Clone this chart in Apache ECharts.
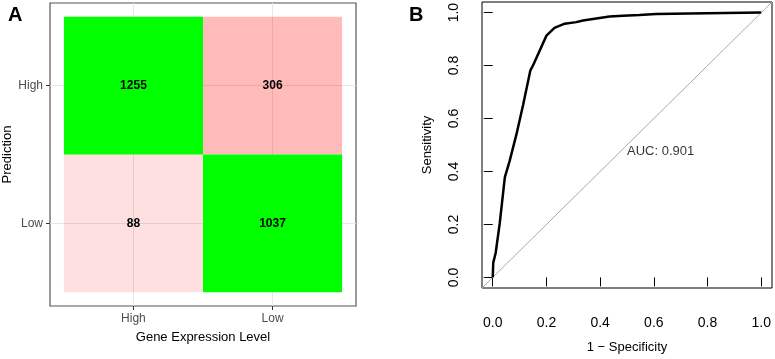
<!DOCTYPE html>
<html>
<head>
<meta charset="utf-8">
<script src="https://cdn.jsdelivr.net/npm/echarts@6/dist/echarts.min.js"></script>
<style>
  html, body { margin: 0; padding: 0; background: #fff; }
  #chart { width: 775px; height: 359px; }
</style>
</head>
<body>
<div id="chart"></div>
<script>
// Panel A: confusion matrix
const actualLevels = ['High', 'Low'];      // x: Gene Expression Level
const predLevels = ['Low', 'High'];        // y: Prediction (bottom to top)
// [actualIndex, predIndex, count]
const matrixCounts = [
  [0, 1, 1255],
  [1, 1, 306],
  [0, 0, 88],
  [1, 0, 1037],
];

// Panel B: ROC curve (1 - specificity, sensitivity)
const rocFpr = [0, 0.002, 0.011, 0.026, 0.045, 0.063, 0.088, 0.113, 0.140, 0.152, 0.200,
  0.230, 0.268, 0.311, 0.336, 0.435, 0.485, 0.546, 0.608, 0.732, 1];
const rocTpr = [0, 0.056, 0.093, 0.204, 0.378, 0.440, 0.539, 0.651, 0.781, 0.805, 0.913,
  0.942, 0.958, 0.964, 0.970, 0.985, 0.988, 0.991, 0.995, 0.997, 1];
const rocTicks = [0, 0.2, 0.4, 0.6, 0.8, 1];
const aucText = 'AUC: 0.901';

const FONT = 'Liberation Sans, Arial, sans-serif';
const chart = echarts.init(document.getElementById('chart'));

const isCorrect = d => actualLevels[d[0]] === predLevels[d[1]];
const maxOff = Math.max(...matrixCounts.filter(d => !isCorrect(d)).map(d => d[2]));
function tileColor(d) {
  // correct predictions are green, errors pink shaded by count
  if (isCorrect(d)) return '#00ff00';
  const a = 0.06 + 0.21 * d[2] / maxOff;
  return 'rgba(255,0,0,' + a.toFixed(3) + ')';
}

const tileData = matrixCounts.map(d => [d[0] + 1, d[1] + 1, d[2]]);

const option = {
  animation: false,
  title: [
    { text: 'A', left: 3, top: 0, textStyle: { fontFamily: FONT, fontSize: 20, fontWeight: 'bold', color: '#000' } },
    { text: 'B', left: 404, top: 0, textStyle: { fontFamily: FONT, fontSize: 20, fontWeight: 'bold', color: '#000' } },
  ],
  grid: [
    { left: 49, top: 3, width: 307, height: 303, show: true, borderColor: '#555', borderWidth: 1.2, backgroundColor: '#fff' },
    { left: 482, top: 2, width: 290, height: 291, show: true, borderColor: '#000', borderWidth: 1 },
  ],
  xAxis: [
    {
      gridIndex: 0, type: 'value', min: 0.4, max: 2.6,
      name: 'Gene Expression Level', nameLocation: 'middle', nameGap: 25,
      nameTextStyle: { fontFamily: FONT, fontSize: 13, color: '#000' },
      axisLine: { show: false },
      axisTick: { show: true, length: 4, customValues: [1, 2], lineStyle: { color: '#333' } },
      axisLabel: { customValues: [1, 2], margin: 7, fontFamily: FONT, fontSize: 12, color: '#4d4d4d',
        formatter: v => actualLevels[Math.round(v) - 1] },
      splitLine: { show: false },
    },
    {
      gridIndex: 1, type: 'value', min: -0.04, max: 1.04,
      name: '1 − Specificity', nameLocation: 'middle', nameGap: 53,
      nameTextStyle: { fontFamily: FONT, fontSize: 13, color: '#000' },
      axisLine: { show: false },
      axisTick: { show: true, length: 9, customValues: rocTicks, lineStyle: { color: '#000' } },
      axisLabel: { customValues: rocTicks, margin: 28, fontFamily: FONT, fontSize: 14, color: '#000',
        formatter: v => v.toFixed(1) },
      splitLine: { show: false },
    },
  ],
  yAxis: [
    {
      gridIndex: 0, type: 'value', min: 0.4, max: 2.6,
      name: 'Prediction', nameLocation: 'middle', nameGap: 36,
      nameTextStyle: { fontFamily: FONT, fontSize: 13, color: '#000' },
      axisLine: { show: false },
      axisTick: { show: true, length: 4, customValues: [1, 2], lineStyle: { color: '#333' } },
      axisLabel: { customValues: [1, 2], margin: 7, fontFamily: FONT, fontSize: 12, color: '#4d4d4d',
        formatter: v => predLevels[Math.round(v) - 1] },
      splitLine: { show: false },
    },
    {
      gridIndex: 1, type: 'value', min: -0.04, max: 1.04,
      name: 'Sensitivity', nameLocation: 'middle', nameGap: 48,
      nameTextStyle: { fontFamily: FONT, fontSize: 13, color: '#000' },
      axisLine: { show: false },
      axisTick: { show: true, length: 9, customValues: rocTicks, lineStyle: { color: '#000' } },
      axisLabel: { customValues: rocTicks, margin: 21, rotate: 90, fontFamily: FONT, fontSize: 14, color: '#000',
        formatter: v => v.toFixed(1) },
      splitLine: { show: false },
    },
  ],
  series: [
    // light grid lines behind the tiles
    {
      type: 'line', xAxisIndex: 0, yAxisIndex: 0, data: [], z: 1, silent: true,
      markLine: {
        silent: true, symbol: 'none', label: { show: false }, z: 1, animation: false,
        lineStyle: { color: '#e6e6e6', width: 1, type: 'solid' },
        data: [{ xAxis: 1 }, { xAxis: 2 }, { yAxis: 1 }, { yAxis: 2 }],
      },
    },
    {
      type: 'custom', xAxisIndex: 0, yAxisIndex: 0, z: 3,
      data: tileData,
      renderItem: (params, api) => {
        const x = api.value(0), y = api.value(1);
        const p0 = api.coord([x - 0.5, y + 0.5]);
        const p1 = api.coord([x + 0.5, y - 0.5]);
        const d = matrixCounts[params.dataIndex];
        return {
          type: 'group',
          children: [
            { type: 'rect', shape: { x: p0[0], y: p0[1], width: p1[0] - p0[0], height: p1[1] - p0[1] },
              style: { fill: tileColor(d) } },
            { type: 'text', x: (p0[0] + p1[0]) / 2, y: (p0[1] + p1[1]) / 2,
              style: { text: String(api.value(2)), align: 'center', verticalAlign: 'middle',
                fontFamily: FONT, fontSize: 12, fontWeight: 'bold', fill: '#000' } },
          ],
        };
      },
    },
    // chance diagonal
    {
      type: 'line', xAxisIndex: 1, yAxisIndex: 1, showSymbol: false, silent: true,
      data: [[-0.04, -0.04], [1.04, 1.04]],
      lineStyle: { color: '#aaa', width: 1 },
    },
    {
      type: 'line', xAxisIndex: 1, yAxisIndex: 1, showSymbol: false, silent: true,
      data: rocFpr.map((x, i) => [x, rocTpr[i]]),
      lineStyle: { color: '#000', width: 2.5 },
    },
    {
      type: 'scatter', xAxisIndex: 1, yAxisIndex: 1, symbolSize: 0, silent: true,
      data: [[0.5, 0.5]],
      label: { show: true, position: [0, 0], align: 'left', verticalAlign: 'top',
        formatter: aucText, fontFamily: FONT, fontSize: 13, color: '#000' },
    },
  ],
};

chart.setOption(option);
</script>
</body>
</html>
